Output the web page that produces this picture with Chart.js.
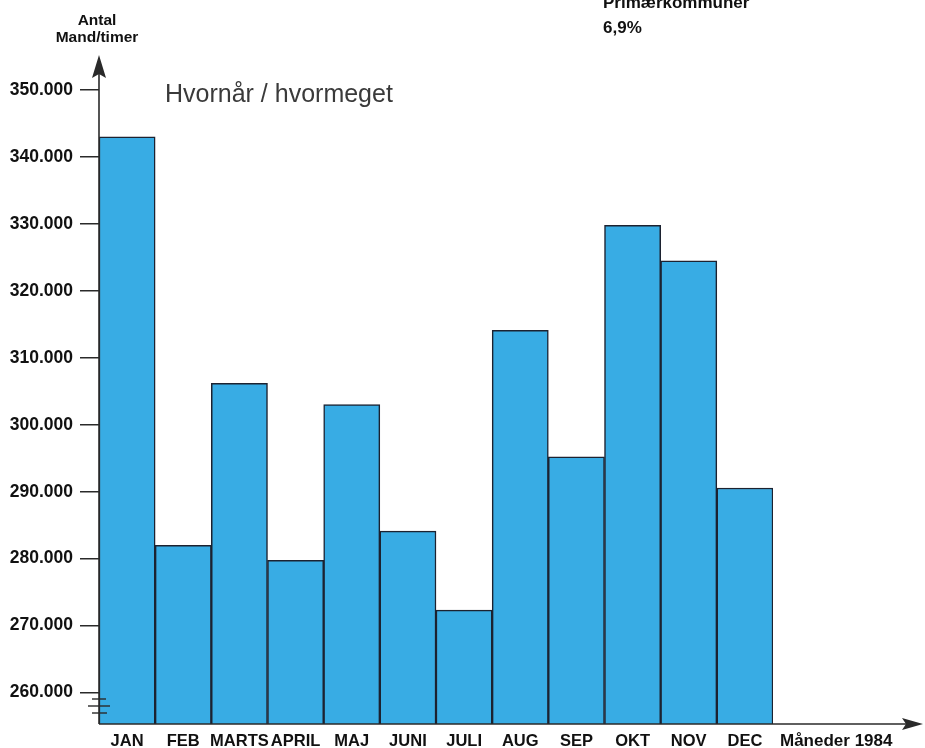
<!DOCTYPE html>
<html>
<head>
<meta charset="utf-8">
<script src="https://cdn.jsdelivr.net/npm/chart.js@4"></script>
<style>
  html, body { margin: 0; padding: 0; background: #fff; }
  #wrap { width: 925px; height: 748px; }
</style>
</head>
<body>
<div id="wrap"><canvas id="graf"></canvas></div>
<script>
// data
const maaneder = ['JAN', 'FEB', 'MARTS', 'APRIL', 'MAJ', 'JUNI', 'JULI', 'AUG', 'SEP', 'OKT', 'NOV', 'DEC'];
const mandTimer = [343000, 282000, 306200, 279750, 303000, 284100, 272300, 314100, 295200, 329800, 324500, 290550];
const yTicks = [260000, 270000, 280000, 290000, 300000, 310000, 320000, 330000, 340000, 350000];
const yMin = 255300, yMax = 350000;

const blaa = '#38ace4';
const mork = '#2a2a2a';

// pile, knæk-streger og løse tekster
const pynt = {
  id: 'pynt',
  afterDraw(chart) {
    const ctx = chart.ctx;
    const a = chart.chartArea;
    ctx.save();
    ctx.strokeStyle = mork;
    ctx.fillStyle = mork;
    ctx.lineWidth = 1.6;

    // y-akse med pil
    ctx.beginPath();
    ctx.moveTo(a.left, a.bottom);
    ctx.lineTo(a.left, 70);
    ctx.stroke();
    ctx.beginPath();
    ctx.moveTo(a.left, 55);
    ctx.lineTo(a.left - 7, 78);
    ctx.lineTo(a.left, 74);
    ctx.lineTo(a.left + 7, 78);
    ctx.closePath();
    ctx.fill();

    // x-akse med pil
    ctx.beginPath();
    ctx.moveTo(a.left, a.bottom);
    ctx.lineTo(908, a.bottom);
    ctx.stroke();
    ctx.beginPath();
    ctx.moveTo(923, a.bottom);
    ctx.lineTo(902, a.bottom - 6);
    ctx.lineTo(906, a.bottom);
    ctx.lineTo(902, a.bottom + 6);
    ctx.closePath();
    ctx.fill();

    // knæk paa y-aksen
    ctx.lineWidth = 1.4;
    [[92, 106, 699], [88, 110, 706], [92, 107, 713]].forEach(l => {
      ctx.beginPath();
      ctx.moveTo(l[0], l[2]);
      ctx.lineTo(l[1], l[2]);
      ctx.stroke();
    });

    // tekster
    ctx.textAlign = 'center';
    ctx.textBaseline = 'middle';
    ctx.fillStyle = '#111';
    ctx.font = 'bold 15.5px "Liberation Sans", Arial, sans-serif';
    ctx.fillText('Antal', 97, 21);
    ctx.fillText('Mand/timer', 97, 38);

    ctx.textAlign = 'left';
    ctx.fillStyle = '#3a3a3a';
    ctx.font = '25px "Liberation Sans", Arial, sans-serif';
    ctx.fillText('Hvornår / hvormeget', 165, 95);

    ctx.fillStyle = '#111';
    ctx.font = 'bold 17px "Liberation Sans", Arial, sans-serif';
    ctx.textBaseline = 'alphabetic';
    ctx.fillText('Primærkommuner', 603, 8);
    ctx.fillText('6,9%', 603, 33);

    ctx.textBaseline = 'middle';
    ctx.fillText('Måneder 1984', 780, 741);
    ctx.restore();
  }
};

const ctx = document.getElementById('graf');
new Chart(ctx, {
  type: 'bar',
  data: {
    labels: maaneder,
    datasets: [{
      data: mandTimer,
      backgroundColor: blaa,
      borderColor: '#1c2230',
      borderWidth: 1.5,
      categoryPercentage: 1,
      barPercentage: 1
    }]
  },
  options: {
    responsive: true,
    maintainAspectRatio: false,
    animation: false,
    layout: { padding: { top: 90, right: 152, left: 0, bottom: 0 } },
    plugins: {
      legend: { display: false },
      tooltip: { enabled: false }
    },
    scales: {
      x: {
        grid: { display: false, drawTicks: false },
        border: { display: false },
        ticks: {
          color: '#111',
          padding: 8,
          autoSkip: false,
          maxRotation: 0,
          minRotation: 0,
          font: { family: '"Liberation Sans", Arial, sans-serif', size: 16.5, weight: 'bold' }
        },
        afterFit: s => { s.height = 24; }
      },
      y: {
        min: yMin,
        max: yMax,
        grid: { drawOnChartArea: false, tickLength: 19, color: mork, lineWidth: 1.5 },
        border: { display: false },
        afterBuildTicks: s => { s.ticks = yTicks.map(v => ({ value: v })); },
        afterFit: s => { s.width = 99; },
        ticks: {
          color: '#111',
          padding: 7,
          font: { family: '"Liberation Sans", Arial, sans-serif', size: 17.5, weight: 'bold' },
          callback: v => (v / 1000) + '.000'
        }
      }
    }
  },
  plugins: [pynt]
});
</script>
</body>
</html>
